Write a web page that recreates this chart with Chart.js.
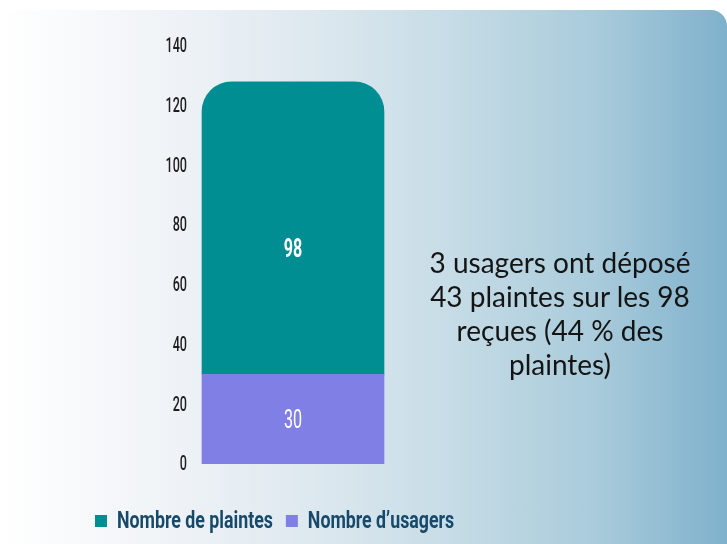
<!DOCTYPE html>
<html lang="fr">
<head>
<meta charset="utf-8">
<title>Plaintes et usagers</title>
<script src="https://cdn.jsdelivr.net/npm/chart.js@4.4.1/dist/chart.umd.min.js"></script>
<style>
  html, body { margin: 0; padding: 0; background: #ffffff; }
  #wrap { position: relative; width: 727px; height: 544px; overflow: hidden; }
  #bg {
    position: absolute; left: 0; top: 10px; width: 727px; height: 534px;
    border-top-right-radius: 16px;
    background: linear-gradient(90deg, #ffffff 0%, #eef2f6 25%, #dbe7ee 45%, #c6dce6 62%, #a9cbdb 82%, #7fb1cc 100%);
  }
  #chart { position: absolute; left: 0; top: 0; }
  #note {
    position: absolute; left: 400px; top: 245px; width: 320px;
    font-family: Lato, "Open Sans", sans-serif; font-size: 28px; line-height: 34px;
    color: #141414; text-align: center;
  }
</style>
</head>
<body>
<div id="wrap">
  <div id="bg"></div>
  <canvas id="chart" width="727" height="544"></canvas>
  <div id="note">3 usagers ont déposé<br>43 plaintes sur les 98<br>reçues (44 % des<br>plaintes)</div>
</div>
<script>
var categories = [''];
var plaintes = [98];
var usagers = [30];
var yTicks = [0, 20, 40, 60, 80, 100, 120, 140];

// no condensed face is installed, so text is squeezed horizontally instead
function narrowText(ctx, text, x, y, font, sx, align) {
  ctx.save();
  ctx.font = font;
  ctx.textAlign = align;
  ctx.textBaseline = 'middle';
  ctx.translate(x, y);
  ctx.scale(sx, 1);
  ctx.fillText(text, 0, 0);
  ctx.restore();
}

// tick labels, bar values and legend, all in the narrow style
var narrowLabels = {
  id: 'narrowLabels',
  afterDraw: function(chart) {
    var ctx = chart.ctx;
    var y = chart.scales.y;

    ctx.fillStyle = '#1e1e1e';
    yTicks.forEach(function(v) {
      narrowText(ctx, String(v), 187, y.getPixelForValue(v) + 1, '500 21px Roboto', 0.6, 'right');
    });

    ctx.fillStyle = '#ffffff';
    chart.data.datasets.forEach(function(ds, i) {
      chart.getDatasetMeta(i).data.forEach(function(bar, j) {
        var mid = (bar.y + bar.base) / 2 + ds.labelShift + 2;
        narrowText(ctx, String(ds.data[j]), bar.x, mid, ds.labelFont, 0.62, 'center');
      });
    });

    // legend row, plaintes first
    var x = 95, cy = 521;
    var font = 'bold 24px Roboto';
    var order = chart.data.datasets.slice().reverse();
    order.forEach(function(ds) {
      ctx.fillStyle = ds.backgroundColor;
      ctx.fillRect(x, cy - 6, 12, 12);
      ctx.font = font;
      var w = ctx.measureText(ds.label).width * 0.74;
      ctx.fillStyle = '#17496a';
      narrowText(ctx, ds.label, x + 22, cy + 1, font, 0.74, 'left');
      x += 22 + w + 13;
    });
  }
};

var ctx = document.getElementById('chart').getContext('2d');
var chart = new Chart(ctx, {
  type: 'bar',
  data: {
    labels: categories,
    datasets: [
      {
        label: 'Nombre d\u2019usagers',
        data: usagers,
        backgroundColor: '#7f7fe6',
        barThickness: 182,
        borderRadius: 0,
        borderSkipped: false,
        labelShift: 0,
        labelFont: '400 26px Roboto'
      },
      {
        label: 'Nombre de plaintes',
        data: plaintes,
        backgroundColor: '#008e93',
        barThickness: 182,
        borderRadius: { topLeft: 30, topRight: 30, bottomLeft: 0, bottomRight: 0 },
        borderSkipped: false,
        labelShift: 20,
        labelFont: 'bold 26px Roboto'
      }
    ]
  },
  options: {
    responsive: false,
    animation: false,
    layout: { padding: { left: 85, right: 336, top: 46, bottom: 80 } },
    scales: {
      x: { stacked: true, display: false },
      y: {
        stacked: true,
        min: 0,
        max: 140,
        afterBuildTicks: function(scale) {
          scale.ticks = yTicks.map(function(v) { return { value: v }; });
        },
        afterFit: function(scale) { scale.width = 110; },
        grid: { display: false, drawTicks: false },
        border: { display: false },
        ticks: { display: false }
      }
    },
    plugins: {
      tooltip: { enabled: false },
      legend: { display: false }
    }
  },
  plugins: [narrowLabels]
});
</script>
</body>
</html>
